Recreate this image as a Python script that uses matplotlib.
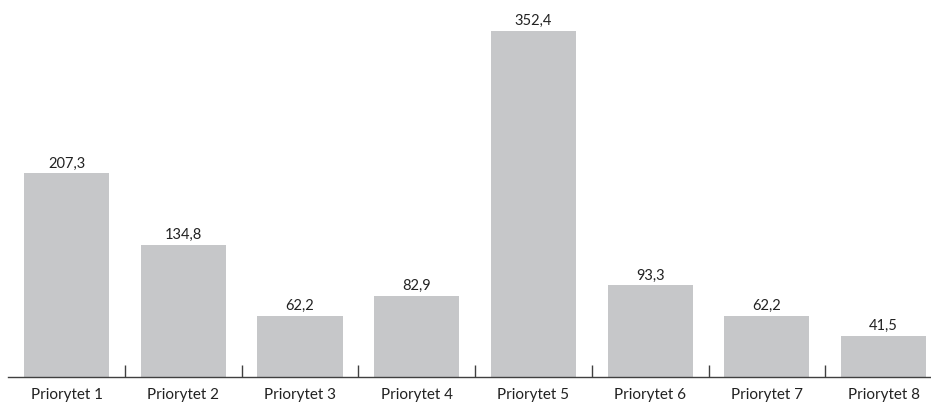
import matplotlib
matplotlib.use("Agg")
import matplotlib.pyplot as plt
from matplotlib.ticker import FixedLocator

categories = ["Priorytet 1", "Priorytet 2", "Priorytet 3", "Priorytet 4",
              "Priorytet 5", "Priorytet 6", "Priorytet 7", "Priorytet 8"]
values = [207.3, 134.8, 62.2, 82.9, 352.4, 93.3, 62.2, 41.5]
value_labels = ["207,3", "134,8", "62,2", "82,9", "352,4", "93,3", "62,2", "41,5"]

W, H = 931, 403
fig = plt.figure(figsize=(W / 100, H / 100), dpi=100)
left_px, bottom_px = 8.3, 403 - 377
ax = fig.add_axes([left_px / W, bottom_px / H, 1 - left_px / W, 1 - bottom_px / H])

plt.rcParams['font.family'] = ['Lato', 'DejaVu Sans']
x = list(range(len(categories)))
ax.bar(x, values, width=0.73, color="#c6c7c9", zorder=2)
for xi, v, lab in zip(x, values, value_labels):
    ax.text(xi, v + 3, lab, ha="center", va="bottom", fontsize=10.5,
            color="#222222", family=['Lato', 'DejaVu Sans'])

px_per_unit = 116.7
ax.set_xlim(-0.5, -0.5 + (W - left_px) / px_per_unit)
ax.set_ylim(0, 377 / 0.982)

for s in ["top", "right", "left"]:
    ax.spines[s].set_visible(False)
ax.spines["bottom"].set_color("#404040")
ax.spines["bottom"].set_linewidth(1.0)
ax.set_yticks([])
ax.xaxis.set_major_locator(FixedLocator([i + 0.5 for i in range(7)]))
ax.xaxis.set_minor_locator(FixedLocator(x))
ax.tick_params(axis="x", which="major", direction="in", length=9, width=1,
               color="#404040", labelbottom=False)
ax.tick_params(axis="x", which="minor", length=0, pad=8, labelsize=11,
               labelcolor="#222222")
ax.set_xticks(x, minor=True)
ax.set_xticklabels(categories, minor=True, family=['Lato', 'DejaVu Sans'])

fig.savefig("out.png", dpi=100)
